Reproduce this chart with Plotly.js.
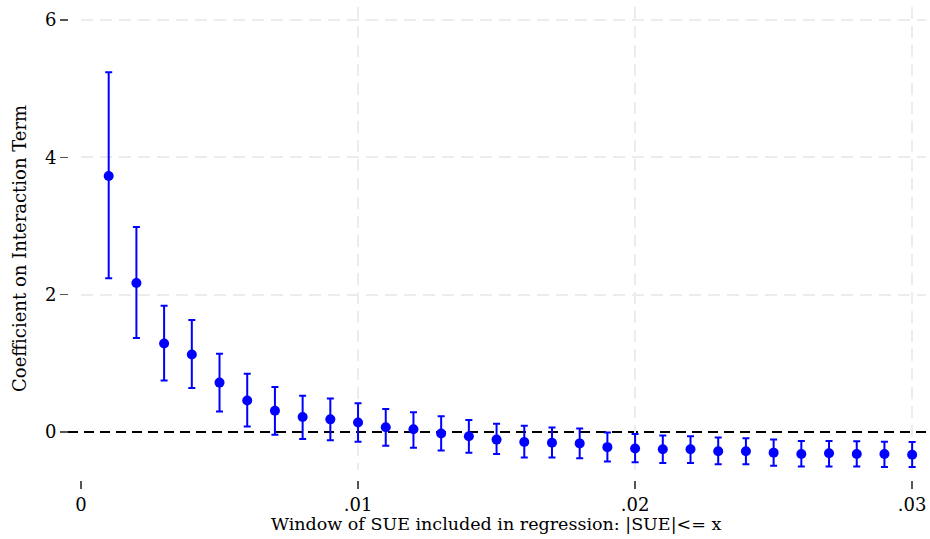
<!DOCTYPE html>
<html>
<head>
<meta charset="utf-8">
<script src="https://cdn.plot.ly/plotly-3.0.1.min.js"></script>
<style>html,body{margin:0;padding:0;background:#fff;}#chart{width:930px;height:539px;}</style>
</head>
<body>
<div id="chart"></div>
<script>
// Window of SUE (x)
const windowX = [0.001,0.002,0.003,0.004,0.005,0.006,0.007,0.008,0.009,0.010,
                 0.011,0.012,0.013,0.014,0.015,0.016,0.017,0.018,0.019,0.020,
                 0.021,0.022,0.023,0.024,0.025,0.026,0.027,0.028,0.029,0.030];
// Coefficient estimates
const coef = [3.73,2.17,1.29,1.13,0.72,0.46,0.31,0.22,0.185,0.14,
              0.07,0.04,-0.02,-0.06,-0.11,-0.145,-0.155,-0.165,-0.22,-0.24,
              -0.25,-0.25,-0.28,-0.28,-0.30,-0.32,-0.31,-0.32,-0.32,-0.33];
// Upper confidence bound
const ciUpper = [5.24,2.985,1.84,1.63,1.14,0.85,0.655,0.53,0.49,0.42,
                 0.335,0.29,0.23,0.175,0.12,0.09,0.065,0.05,-0.005,-0.03,
                 -0.05,-0.06,-0.08,-0.09,-0.11,-0.13,-0.13,-0.135,-0.14,-0.145];
// Lower confidence bound
const ciLower = [2.24,1.37,0.75,0.64,0.30,0.08,-0.04,-0.10,-0.12,-0.14,
                 -0.20,-0.23,-0.27,-0.30,-0.32,-0.37,-0.37,-0.38,-0.43,-0.44,
                 -0.45,-0.45,-0.47,-0.47,-0.49,-0.50,-0.50,-0.50,-0.51,-0.51];
// Tick labels
const xTickVals = [0,0.01,0.02,0.03];
const xTickText = ['0','.01','.02','.03'];
const yTickVals = [0,2,4,6];
const yTickText = ['0','2','4','6'];
const yGridVals = [2,4,6];
const refLineY = 0;

const errPlus = ciUpper.map((u,i)=>u-coef[i]);
const errMinus = coef.map((c,i)=>c-ciLower[i]);

const FONT = 'DejaVu Serif';
const blue = '#0000ff';
const yRange = [-0.553,6.19];
const yDomain = [0.0211,1];

const trace = {
  type:'scatter', mode:'markers', x:windowX, y:coef,
  marker:{color:blue, size:10},
  error_y:{type:'data', symmetric:false, array:errPlus, arrayminus:errMinus,
           color:blue, thickness:2, width:3.5},
  hoverinfo:'x+y', showlegend:false
};

const layout = {
  width:930, height:539,
  margin:{l:68, r:4, t:7, b:59},
  paper_bgcolor:'#fff', plot_bgcolor:'#fff',
  font:{family:FONT, size:18, color:'#000'},
  xaxis:{
    domain:[0.01515,1], range:[0,0.0305], anchor:'free', position:0,
    tickvals:xTickVals, ticktext:xTickText,
    ticks:'outside', ticklen:8, tickwidth:1.5, tickcolor:'#555',
    showgrid:true, gridcolor:'#ececec', gridwidth:2, griddash:'12px,7px',
    zeroline:false, showline:false,
    tickfont:{family:FONT, size:18, color:'#000'}
  },
  yaxis:{
    domain:yDomain, range:yRange, anchor:'free', position:0,
    tickvals:yTickVals, ticktext:yTickText,
    ticks:'outside', ticklen:8, tickwidth:1.5, tickcolor:'#555',
    showgrid:false, zeroline:false, showline:false,
    tickfont:{family:FONT, size:18, color:'#000'}
  },
  yaxis2:{
    overlaying:'y', domain:yDomain, range:yRange, anchor:'x',
    tickvals:yGridVals, showticklabels:false, ticks:'',
    showgrid:true, gridcolor:'#ececec', gridwidth:2, griddash:'12px,7px',
    zeroline:false, showline:false
  },
  shapes:[{type:'line', xref:'paper', yref:'y', x0:0, x1:1, y0:refLineY, y1:refLineY,
           line:{color:'#000', width:2, dash:'10px,6px'}, layer:'below'}],
  annotations:[
    {text:'Coefficient on Interaction Term', xref:'paper', yref:'paper',
     x:-0.056, y:0.4905, xanchor:'center', yanchor:'middle', textangle:-90,
     showarrow:false, font:{family:FONT, size:18, color:'#000'}},
    {text:'Window of SUE included in regression: |SUE|<= x', xref:'paper', yref:'paper',
     x:0.4988, y:-0.093, xanchor:'center', yanchor:'middle',
     showarrow:false, font:{family:FONT, size:17.5, color:'#000'}}
  ]
};

const dummy = {type:'scatter', mode:'markers', x:[], y:[], yaxis:'y2', showlegend:false, hoverinfo:'skip'};

Plotly.newPlot('chart',[trace, dummy],layout,{displayModeBar:false, staticPlot:true});
</script>
</body>
</html>
